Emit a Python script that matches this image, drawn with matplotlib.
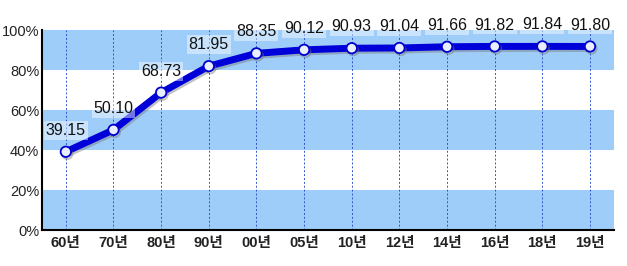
import numpy as np
import matplotlib.pyplot as plt
import matplotlib.patheffects as pe

plt.rcParams['font.family'] = ['Liberation Sans', 'Noto Sans CJK KR', 'DejaVu Sans']

years = ['60년', '70년', '80년', '90년', '00년', '05년', '10년', '12년', '14년', '16년', '18년', '19년']
rates = [39.15, 50.10, 68.73, 81.95, 88.35, 90.12, 90.93, 91.04, 91.66, 91.82, 91.84, 91.80]
y_ticks = [0, 20, 40, 60, 80, 100]

fig = plt.figure(figsize=(6.27, 2.66), dpi=100)
ax = fig.add_axes([0.067, 0.135, 0.912, 0.752])

x = np.arange(len(years))
band = '#9fcdfa'
for lo in (0, 40, 80):
    ax.axhspan(lo, lo + 20, color=band, zorder=0, lw=0)

for xi in x:
    ax.axvline(xi, color='#3355cc', lw=0.7, ls=(0, (2, 2)), zorder=1)
ax.axvline(11.5, color='#3355cc', lw=0.7, ls=(0, (2, 2)), zorder=1)

ax.plot(x, rates, color='#0000d8', lw=5, marker='o', ms=7.5,
        mfc='#e8eeff', mec='#0000cc', mew=1.3, zorder=3,
        path_effects=[pe.SimpleLineShadow(offset=(1, -1.5), shadow_color='#777777', alpha=0.45),
                      pe.Normal()])

for xi, v in zip(x, rates):
    ax.annotate(f'{v:.2f}', (xi, v), xytext=(0, 10), textcoords='offset points',
                ha='center', va='bottom', fontsize=11.5, color='#111111', zorder=4,
                bbox=dict(boxstyle='square,pad=0.12', fc='white', ec='none', alpha=0.45))

ax.set_xlim(-0.5, 11.5)
ax.set_ylim(0, 100)
ax.set_yticks(y_ticks)
ax.set_yticklabels([f'{t}%' for t in y_ticks], fontsize=10.5, color='#222222')
ax.set_xticks(x)
ax.set_xticklabels(years, fontsize=10.5, fontweight='bold', color='#222222')
ax.tick_params(length=0, pad=4)
ax.tick_params(axis='y', pad=2)
ax.spines['top'].set_visible(False)
ax.spines['right'].set_visible(False)
ax.spines['left'].set_linewidth(1.5)
ax.spines['bottom'].set_linewidth(1.5)

fig.savefig('out.png', dpi=100)
